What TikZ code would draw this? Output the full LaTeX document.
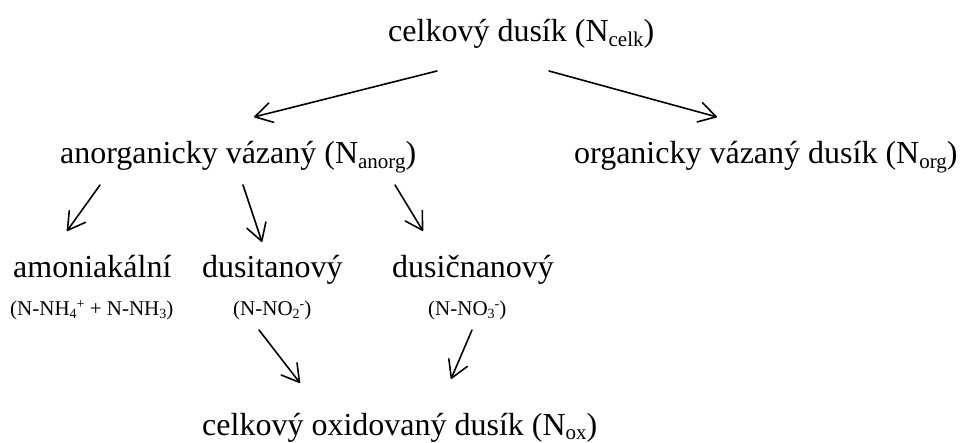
\documentclass[tikz,border=0pt]{standalone}
\usepackage{fontspec}
\setmainfont{Liberation Serif}
\usetikzlibrary{arrows.meta}
\newcommand\bigt{\fontsize{32}{38}\selectfont}
\newcommand\smallt{\fontsize{21}{25}\selectfont}
\newcommand\bsub[1]{\raisebox{-4.5pt}{\fontsize{21}{21}\selectfont #1}}
\newcommand\ssub[1]{\raisebox{-3pt}{\fontsize{14}{14}\selectfont #1}}
\newcommand\ssup[1]{\raisebox{7pt}{\fontsize{14}{14}\selectfont #1}}
\tikzset{
  lbl/.style={inner sep=0pt, anchor=base west, font=\bigt},
  frm/.style={inner sep=0pt, anchor=base west, font=\smallt},
  arr/.style={line width=1.6pt, line join=round, line cap=round,
    -{Straight Barb[length=17pt,width=20pt,line width=1.6pt,round]}}
}
\begin{document}
\begin{tikzpicture}[x=1pt,y=-1pt]
\useasboundingbox (0,0) rectangle (963,443);
\node[lbl] (top) at (388,42) {celkový dusík (N\bsub{celk})};
\node[lbl] (anorg) at (60,164) {anorganicky vázaný (N\bsub{anorg})};
\node[lbl] (org) at (574,164) {organicky vázaný dusík (N\bsub{org})};
\node[lbl] (amon) at (13,278) {amoniakální};
\node[lbl] (dusit) at (202,278) {dusitanový};
\node[lbl] (dusic) at (392,278) {dusičnanový};
\node[frm] (f1) at (10,316) {(N-NH\ssub{4}\ssup{+} + N-NH\ssub{3})};
\node[frm] (f2) at (233,316) {(N-NO\ssub{2}\ssup{-})};
\node[frm] (f3) at (428,316) {(N-NO\ssub{3}\ssup{-})};
\node[lbl] (ox) at (202,435) {celkový oxidovaný dusík (N\bsub{ox})};
% arrow end points
\coordinate (t1) at (437,71);  \coordinate (h1) at (254,117);
\coordinate (t2) at (549,71);  \coordinate (h2) at (717,117);
\coordinate (t3) at (100,185); \coordinate (h3) at (67,231);
\coordinate (t4) at (243,185); \coordinate (h4) at (262,242);
\coordinate (t5) at (395,185); \coordinate (h5) at (423,231);
\coordinate (t6) at (259,330); \coordinate (h6) at (300,383);
\coordinate (t7) at (472,330); \coordinate (h7) at (451,379);
\draw[arr] (t1) -- (h1);
\draw[arr] (t2) -- (h2);
\draw[arr] (t3) -- (h3);
\draw[arr] (t4) -- (h4);
\draw[arr] (t5) -- (h5);
\draw[arr] (t6) -- (h6);
\draw[arr] (t7) -- (h7);
\end{tikzpicture}
\end{document}
